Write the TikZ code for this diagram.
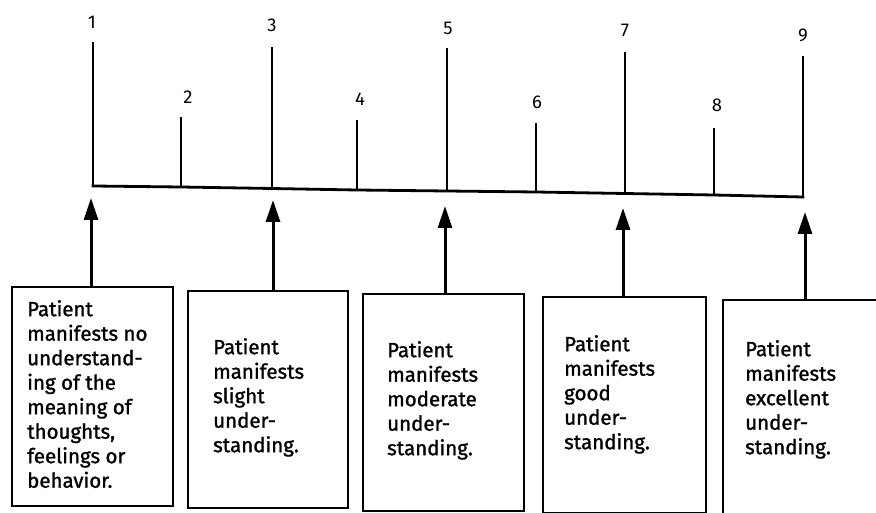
\documentclass[tikz,border=0pt]{standalone}
\usepackage{fontspec}
\setmainfont{Fira Sans}
\newfontfamily\boxfont{Fira Sans}[FakeBold=1.3]
\usetikzlibrary{arrows.meta,positioning}

\begin{document}
\begin{tikzpicture}[x=1pt,y=-1pt,
	tick/.style={line width=2.8pt,line cap=rect},
	up/.style={line width=3pt,-{Triangle[length=22pt,width=14pt]}},
	box/.style={draw,line width=1.8pt,anchor=north west,inner sep=0pt},
	num/.style={font=\fontsize{18.5}{20}\selectfont},
	txt/.style={align=left,inner sep=0pt,font=\boxfont\fontsize{20.5}{24.5}\selectfont}]
	\useasboundingbox (0,0) rectangle (876,513);
	\foreach \x/\yb/\yt/\lx/\ly [count=\n] in {93/186/43/92/22,181/187/118/188/97,272/188.5/48/272/25,357/190/121/360/99,447/191/49/448/28,536/192/124/537/102,625/193.5/53/625/30,714/195/129/717/105,803/197/57/803/35}
		{
		\coordinate (B\n) at (\x,\yb);
		\coordinate (T\n) at (\x,\yt);
		\node[num] (L\n) at (\lx,\ly) {\n};
		\draw[tick] (B\n) -- (T\n);
		}
	\draw[tick] (B1) -- (B2) -- (B3) -- (B4) -- (B5) -- (B6) -- (B7) -- (B8) -- (B9);

	\foreach \x/\y/\w/\h/\ax/\ay [count=\n] in {11/286/161/219/91/198,187/290/160/217/273/200,362/293/161/217/445/206,542/296/163/216/623/208,722/299/170/230/805/212}
		{
		\node[box,minimum width=\w,minimum height=\h] (D\n) at (\x,\y) {};
		\coordinate (A\n) at (\ax,\ay);
		\draw[up] (D\n.north -| A\n) -- (A\n);
		}

	\node[txt,below right=14pt and 16pt of D1.north west,anchor=north west] (P1) {Patient\\manifests no\\understand-\\ing of the\\meaning of\\thoughts,\\feelings or\\behavior.};
	\node[txt,below right=48pt and 26pt of D2.north west,anchor=north west] (P2) {Patient\\manifests\\slight\\under-\\standing.};
	\node[txt,below right=48pt and 25pt of D3.north west,anchor=north west] (P3) {Patient\\manifests\\moderate\\under-\\standing.};
	\node[txt,below right=39pt and 22pt of D4.north west,anchor=north west] (P4) {Patient\\manifests\\good\\under-\\standing.};
	\node[txt,below right=41pt and 23pt of D5.north west,anchor=north west] (P5) {Patient\\manifests\\excellent\\under-\\standing.};
\end{tikzpicture}
\end{document}
